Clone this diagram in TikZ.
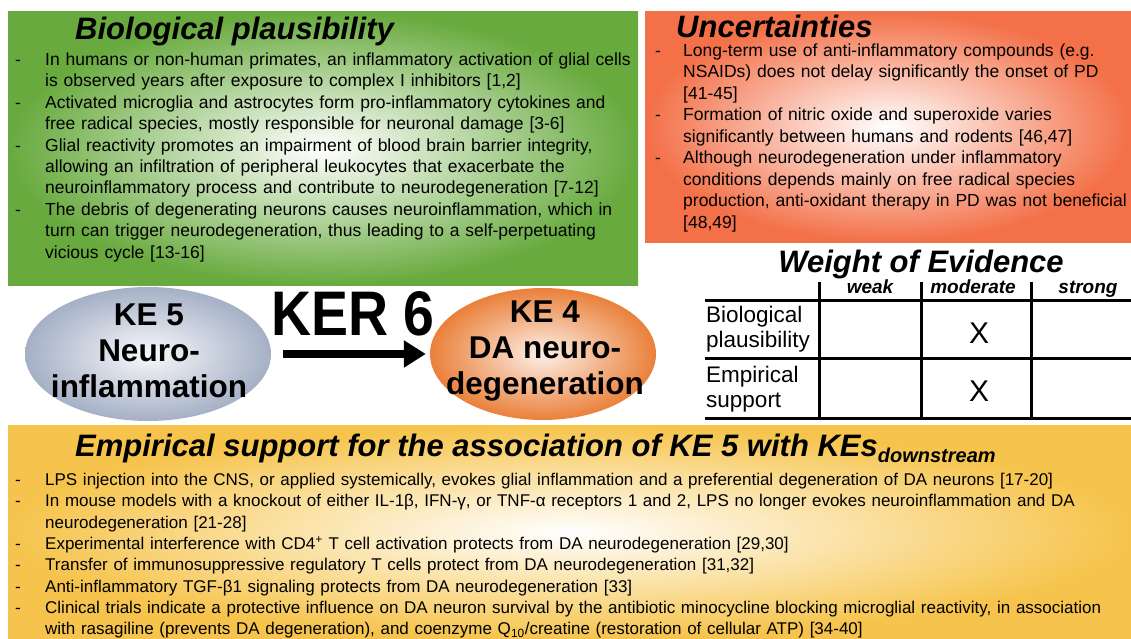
\documentclass[tikz,border=0pt]{standalone}
\usepackage{fontspec}
\setmainfont{Liberation Sans}
\newfontfamily\narrowfont[FakeStretch=0.88]{Liberation Sans}
\usetikzlibrary{arrows.meta,shapes.geometric}

\definecolor{plausgreen}{RGB}{104,170,62}
\definecolor{uncorange}{RGB}{243,112,72}
\definecolor{empyellow}{RGB}{246,196,76}
\definecolor{kegrey}{RGB}{165,176,198}
\definecolor{keorange}{RGB}{234,128,58}

\begin{document}
\begin{tikzpicture}[x=1pt,y=-1pt]
  \tikzstyle{heading}=[font=\fontsize{31}{36}\selectfont\bfseries\itshape,inner sep=0,anchor=base west]
  \tikzstyle{item}=[font=\fontsize{17.5}{21.4}\selectfont,inner sep=0,anchor=base west,align=left,text width=1100pt]
  \tikzstyle{hyphen}=[font=\fontsize{17}{21.4}\selectfont,inner sep=0,anchor=base west]
  \tikzstyle{event}=[ellipse,shade,inner sep=0]
  \tikzstyle{eventtext}=[font=\fontsize{31.5}{36}\selectfont\bfseries,align=center,inner sep=0]
  \tikzstyle{tablerule}=[line width=3pt]
  \tikzstyle{colhead}=[font=\fontsize{19}{22}\selectfont\bfseries\itshape,inner sep=0,anchor=base]
  \tikzstyle{rowhead}=[font=\fontsize{22.5}{25}\selectfont,inner sep=0,anchor=base west,align=left,text width=130pt]
  \tikzstyle{verdict}=[font=\fontsize{30}{32}\selectfont,inner sep=0]

  \useasboundingbox (0,0) rectangle (1131,639);

  % panels
  \shade[inner color=white,outer color=plausgreen] (8,12) rectangle (638,285);
  \shade[inner color=white,outer color=uncorange] (645,12) rectangle (1131,242);
  \shade[inner color=white,outer color=empyellow] (8,425) rectangle (1131,639);

  % biological plausibility
  \node [heading] (bptitle) at (75,39.5) {Biological plausibility};
  \node [hyphen] (bpd1) at (15,65.5) {-};
  \node [item] (bp1) at (45,65.5) {In humans or non-human primates, an inflammatory activation of glial cells\\is observed years after exposure to complex I inhibitors [1,2]};
  \node [hyphen] (bpd2) at (15,108.3) {-};
  \node [item] (bp2) at (45,108.3) {Activated microglia and astrocytes form pro-inflammatory cytokines and\\free radical species, mostly responsible for neuronal damage [3-6]};
  \node [hyphen] (bpd3) at (15,151.1) {-};
  \node [item] (bp3) at (45,151.1) {Glial reactivity promotes an impairment of blood brain barrier integrity,\\allowing an infiltration of peripheral leukocytes that exacerbate the\\neuroinflammatory process and contribute to neurodegeneration [7-12]};
  \node [hyphen] (bpd4) at (15,215.3) {-};
  \node [item] (bp4) at (45,215.3) {The debris of degenerating neurons causes neuroinflammation, which in\\turn can trigger neurodegeneration, thus leading to a self-perpetuating\\vicious cycle [13-16]};

  % uncertainties
  \node [heading] (untitle) at (676,38) {Uncertainties};
  \node [hyphen] (und1) at (655,56.5) {-};
  \node [item] (un1) at (683,56.5) {Long-term use of anti-inflammatory compounds (e.g.\\NSAIDs) does not delay significantly the onset of PD\\{}[41-45]};
  \node [hyphen] (und2) at (655,121) {-};
  \node [item] (un2) at (683,121) {Formation of nitric oxide and superoxide varies\\significantly between humans and rodents [46,47]};
  \node [hyphen] (und3) at (655,164) {-};
  \node [item] (un3) at (683,164) {Although neurodegeneration under inflammatory\\conditions depends mainly on free radical species\\production, anti-oxidant therapy in PD was not beneficial\\{}[48,49]};

  % key events
  \node [event,inner color=kegrey!8,outer color=kegrey,minimum width=246pt,minimum height=134pt] (ke5) at (148,354) {};
  \node [eventtext] (ke5text) at (149,351) {KE 5\\Neuro-\\inflammation};
  \node [event,inner color=keorange!12,outer color=keorange,minimum width=226pt,minimum height=132pt] (ke4) at (543,354) {};
  \node [eventtext] (ke4text) at (545,351) {KE 4\\DA neuro-\\degeneration};
  \node [font=\fontsize{63}{63}\narrowfont\bfseries,inner sep=0] (ker) at (353,314) {KER 6};
  \draw [line width=8pt,-{Triangle[length=22pt,width=26pt]},shorten <=12pt,shorten >=4pt] (ke5) -- (ke4);

  % weight of evidence
  \node [heading,anchor=base] (woetitle) at (921,272) {Weight of Evidence};
  \draw [tablerule] (705,300) -- (1131,300);
  \draw [tablerule] (705,358) -- (1131,358);
  \draw [tablerule] (705,418) -- (1131,418);
  \draw [tablerule] (819,282) -- (819,418);
  \draw [tablerule] (921,282) -- (921,418);
  \draw [tablerule] (1031,282) -- (1031,418);
  \node [colhead] (weak) at (870,293) {weak};
  \node [colhead] (moderate) at (973,293) {moderate};
  \node [colhead] (strong) at (1088,293) {strong};
  \node [rowhead] (rowbp) at (706,322) {Biological\\plausibility};
  \node [rowhead] (rowes) at (706,382) {Empirical\\support};
  \node [verdict] (xbp) at (979,333) {X};
  \node [verdict] (xes) at (979,391) {X};

  % empirical support
  \node [heading] (estitle) at (75,456) {Empirical support for the association of KE 5 with KEs\raisebox{-6pt}{\fontsize{20}{21}\selectfont downstream}};
  \node [hyphen] (esd1) at (15,485.5) {-};
  \node [item,font=\fontsize{17}{21.4}\selectfont] (es1) at (45,485.5) {LPS injection into the CNS, or applied systemically, evokes glial inflammation and a preferential degeneration of DA neurons [17-20]};
  \node [hyphen] (esd2) at (15,506.8) {-};
  \node [item,font=\fontsize{17}{21.4}\selectfont] (es2) at (45,506.8) {In mouse models with a knockout of either IL-1β, IFN-γ, or TNF-α receptors 1 and 2, LPS no longer evokes neuroinflammation and DA\\neurodegeneration [21-28]};
  \node [hyphen] (esd3) at (15,549.4) {-};
  \node [item,font=\fontsize{17}{21.4}\selectfont] (es3) at (45,549.4) {Experimental interference with CD4\textsuperscript{+} T cell activation protects from DA neurodegeneration [29,30]};
  \node [hyphen] (esd4) at (15,570.7) {-};
  \node [item,font=\fontsize{17}{21.4}\selectfont] (es4) at (45,570.7) {Transfer of immunosuppressive regulatory T cells protect from DA neurodegeneration [31,32]};
  \node [hyphen] (esd5) at (15,592) {-};
  \node [item,font=\fontsize{17}{21.4}\selectfont] (es5) at (45,592) {Anti-inflammatory TGF-β1 signaling protects from DA neurodegeneration [33]};
  \node [hyphen] (esd6) at (15,613.3) {-};
  \node [item,font=\fontsize{17}{21.4}\selectfont] (es6) at (45,613.3) {Clinical trials indicate a protective influence on DA neuron survival by the antibiotic minocycline blocking microglial reactivity, in association\\with rasagiline (prevents DA degeneration), and coenzyme Q\textsubscript{10}/creatine (restoration of cellular ATP) [34-40]};
\end{tikzpicture}
\end{document}
